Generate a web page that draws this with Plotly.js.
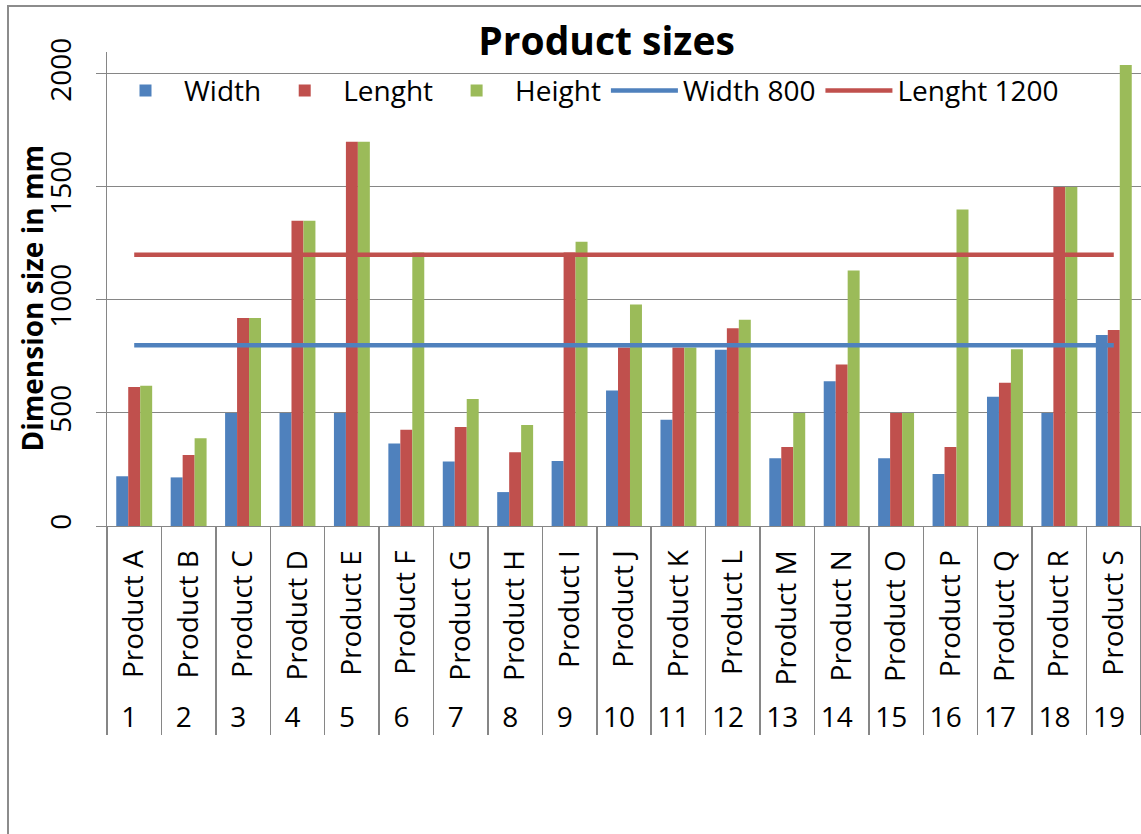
<!DOCTYPE html>
<html>
<head>
<meta charset="utf-8">
<script src="https://cdn.plot.ly/plotly-3.0.1.min.js"></script>
<style>
  html, body { margin: 0; padding: 0; background: #ffffff; overflow: hidden; }
  #chart { width: 1141px; height: 834px; }
  #frame { position: absolute; left: 7px; top: 5px; width: 1200px; height: 900px;
           border: 2px solid #8c8c8c; box-sizing: border-box; pointer-events: none; }
</style>
</head>
<body>
<div id="chart"></div>
<div id="frame"></div>
<script>
// Product catalogue: name and running number of each product
const productNames = ['Product A', 'Product B', 'Product C', 'Product D', 'Product E',
  'Product F', 'Product G', 'Product H', 'Product I', 'Product J', 'Product K',
  'Product L', 'Product M', 'Product N', 'Product O', 'Product P', 'Product Q',
  'Product R', 'Product S'];
const productNumbers = ['1', '2', '3', '4', '5', '6', '7', '8', '9', '10', '11',
  '12', '13', '14', '15', '16', '17', '18', '19'];

// Dimensions in mm
const widthMm  = [220, 215, 500, 500, 500, 365, 285, 150, 288, 600, 470, 780, 300, 640, 300, 230, 572, 500, 845];
const lengthMm = [615, 314, 920, 1350, 1700, 426, 438, 326, 1210, 790, 790, 875, 350, 715, 500, 350, 634, 1500, 867];
const heightMm = [620, 388, 920, 1350, 1700, 1210, 562, 447, 1258, 980, 790, 912, 500, 1130, 500, 1400, 782, 1500, 2040];

// Pallet reference limits (EUR pallet 800 x 1200)
const width800   = [800, 800, 800, 800, 800, 800, 800, 800, 800, 800, 800, 800, 800, 800, 800, 800, 800, 800, 800];
const length1200 = [1200, 1200, 1200, 1200, 1200, 1200, 1200, 1200, 1200, 1200, 1200, 1200, 1200, 1200, 1200, 1200, 1200, 1200, 1200];

const yTicks = [0, 500, 1000, 1500, 2000];

const BLUE = '#4F81BD', RED = '#C0504D', GREEN = '#9BBB59', GREY = '#868686';
const xCats = [productNumbers, productNames];

const traces = [
  { type: 'bar', name: 'Width',  x: xCats, y: widthMm,  marker: { color: BLUE } },
  { type: 'bar', name: 'Lenght', x: xCats, y: lengthMm, marker: { color: RED } },
  { type: 'bar', name: 'Height', x: xCats, y: heightMm, marker: { color: GREEN } },
  { type: 'scatter', mode: 'lines', name: 'Width 800', x: xCats, y: width800,
    line: { color: BLUE, width: 4.5 } },
  { type: 'scatter', mode: 'lines', name: 'Lenght 1200', x: xCats, y: length1200,
    line: { color: RED, width: 4.5 } }
];

const layout = {
  width: 1141, height: 834,
  margin: { l: 107, r: 0, t: 52, b: 308, pad: 0 },
  paper_bgcolor: '#ffffff', plot_bgcolor: 'rgba(0,0,0,0)',
  font: { family: '"Open Sans", sans-serif', size: 28, color: '#000000' },
  title: { text: '<b>Product sizes</b>', font: { size: 39 },
           x: 0.5316, xanchor: 'center', xref: 'container',
           y: 0.950, yanchor: 'middle', yref: 'container' },
  barmode: 'group', bargap: 0.34, bargroupgap: 0,
  showlegend: true,
  legend: { orientation: 'h', x: 0.0, xanchor: 'left', y: 0.918, yanchor: 'middle',
            bgcolor: 'rgba(0,0,0,0)', font: { size: 28 }, itemwidth: 67,
            traceorder: 'normal' },
  xaxis: { type: 'multicategory', showgrid: false, showline: true, linecolor: GREY,
           linewidth: 1, ticks: '', tickangle: -90, showdividers: true,
           dividercolor: GREY, dividerwidth: 1.5, tickfont: { size: 28 },
           ticklabelstandoff: 12 },
  yaxis: { range: [0, 2097], tickmode: 'array', tickvals: yTicks, ticktext: yTicks.map(String),
           showgrid: true, gridcolor: GREY, gridwidth: 1, zeroline: false,
           showline: true, linecolor: GREY, linewidth: 1,
           ticks: 'outside', ticklen: 10, tickcolor: GREY, tickangle: -90,
           tickfont: { size: 28 }, ticklabelstandoff: 14 },
  // vertical axis caption, set just left of the tick labels
  annotations: [{
    text: '<b>Dimension size in mm</b>', textangle: -90, showarrow: false,
    xref: 'paper', x: -0.0716, xanchor: 'center',
    yref: 'paper', y: 0.48, yanchor: 'middle',
    font: { size: 28 }
  }]
};

Plotly.newPlot('chart', traces, layout, { displayModeBar: false, staticPlot: true });
</script>
</body>
</html>
